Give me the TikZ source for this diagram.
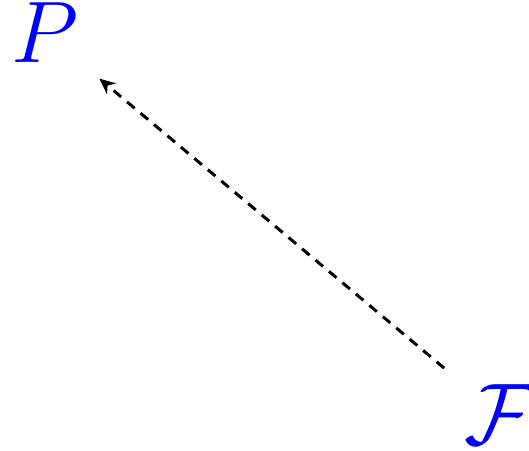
\documentclass[tikz,border=0pt]{standalone}
\usepackage{tikz}
\usetikzlibrary{arrows.meta}

\begin{document}
\begin{tikzpicture}[
  every node/.style={text=blue, font=\fontsize{24}{28}\selectfont},
  arrow/.style={-{Stealth[length=4.5pt, width=4pt]}, line width=0.85pt, dash pattern=on 2.8pt off 2.2pt}
]
\useasboundingbox (0,0) rectangle (5.29,4.51);
\node (P) at (0.45,4.18) {$P$};
\node (F) at (5.00,0.36) {$\mathcal{F}$};
\draw[arrow, shorten <=0.1cm, shorten >=0.11cm] (F) -- (P);
\end{tikzpicture}
\end{document}
